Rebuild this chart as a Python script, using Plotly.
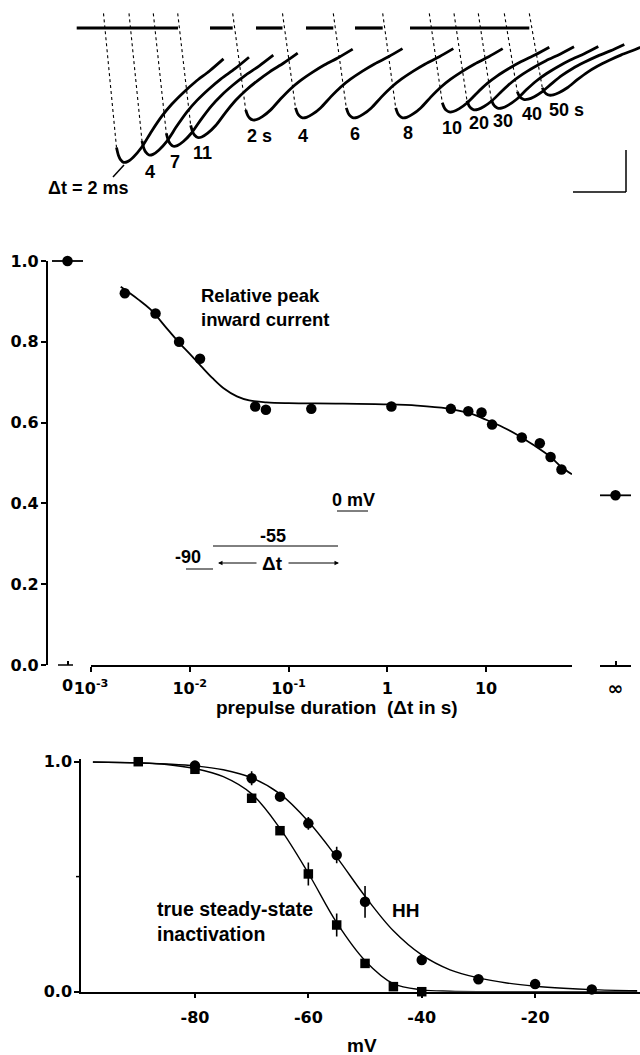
import plotly.graph_objects as go

W, H = 640, 1055
def px(x): return x / W
def py(y): return 1 - y / H

# ---------------- DATA ----------------
# Top: current records after prepulses of duration Δt
trace_labels = ["Δt = 2 ms", "4", "7", "11", "2 s", "4", "6", "8", "10", "20", "30", "40", "50 s"]
trace_peaks = [0.92, 0.87, 0.81, 0.75, 0.63, 0.615, 0.615, 0.615, 0.575, 0.56, 0.55, 0.49, 0.46]
# shape of one record (time after pulse onset, fraction of peak)
rec_t = [13, 15, 17, 20, 24, 30, 38, 48, 58, 68, 80, 92, 106, 120]
rec_shape = [0.89, 0.95, 0.98, 1.0, 0.995, 0.96, 0.89, 0.77, 0.66, 0.57, 0.48, 0.40, 0.32, 0.23]
artifact = 0.10

# Middle: relative peak inward current vs prepulse duration
dt_s = [0.0022, 0.0045, 0.0078, 0.0127, 0.046, 0.059, 0.17, 1.1, 4.4, 6.6, 9.0, 11.5, 23, 35, 45, 58]
rel_peak = [0.92, 0.87, 0.80, 0.758, 0.64, 0.632, 0.634, 0.64, 0.634, 0.628, 0.625, 0.595, 0.563, 0.549, 0.515, 0.484]
rel_peak_zero = 1.0
rel_peak_inf = 0.42
fit_t = [0.002, 0.003, 0.004, 0.006, 0.008, 0.01, 0.013, 0.017, 0.022, 0.03, 0.04, 0.06, 0.1, 0.3,
         1, 2, 4, 7, 10, 15, 20, 30, 45, 58, 74]
fit_rel = [0.936, 0.905, 0.88, 0.83, 0.795, 0.77, 0.74, 0.71, 0.685, 0.665, 0.655, 0.65, 0.648, 0.647,
           0.645, 0.642, 0.635, 0.622, 0.607, 0.588, 0.572, 0.545, 0.515, 0.49, 0.472]
mid_tickvals = [0.001, 0.01, 0.1, 1, 10]
mid_ticktext = ["10<sup>-3</sup>", "10<sup>-2</sup>", "10<sup>-1</sup>", "1", "10"]
mid_yticks = [0.0, 0.2, 0.4, 0.6, 0.8, 1.0]

# Bottom: inactivation curves
v_hh = [-80, -70, -65, -60, -55, -50, -40, -30, -20, -10]
hh = [0.983, 0.928, 0.848, 0.732, 0.594, 0.391, 0.138, 0.054, 0.033, 0.01]
hh_err = [0, 0.03, 0, 0.028, 0.036, 0.069, 0, 0, 0, 0]
v_ss = [-90, -80, -70, -65, -60, -55, -50, -45, -40]
ss = [1.0, 0.967, 0.841, 0.70, 0.512, 0.29, 0.123, 0.022, 0.0]
ss_err = [0, 0, 0, 0, 0.05, 0.05, 0, 0, 0]
fit_v = [-98, -90, -85, -80, -75, -70, -65, -60, -55, -50, -45, -40, -35, -30, -25, -20, -15, -10, -2]
hh_fit = [0.998, 0.995, 0.99, 0.982, 0.965, 0.93, 0.86, 0.74, 0.585, 0.415, 0.265, 0.16, 0.095,
          0.06, 0.038, 0.024, 0.015, 0.009, 0.004]
ss_fit = [0.999, 0.995, 0.988, 0.97, 0.935, 0.86, 0.71, 0.515, 0.30, 0.135, 0.035, 0.008, 0.002,
          0.0, 0.0, 0.0, 0.0, 0.0, 0.0]
bot_xticks = [-80, -60, -40, -20]

# ---------------- LAYOUT POSITIONS (montage / page pixels) ----------------
onsets = [103.5, 129, 153.3, 177.7, 232.7, 282.5, 333.3, 382.7, 429.3, 454, 478.3, 504.3, 529.3]
holding = [(76.7, 178), (210, 232.7), (256, 282.5), (306, 333.3), (355, 382.7), (410, 529.3)]
label_xy = [(88, 188), (150, 172), (175, 162), (202, 153), (259, 136), (303, 136), (355, 134),
            (408, 133), (452, 128), (479, 123), (503, 121), (532, 114), (566, 110)]
top_base_px, top_scale = 28, 146

BLACK = "black"
ann_font = dict(family="Liberation Sans, Arial", size=18, color=BLACK, weight="bold")
tick_font = dict(family="DejaVu Sans", size=16, color=BLACK, weight="bold")

fig = go.Figure()

# ---- top traces ----
for x0, p in zip(onsets, trace_peaks):
    fig.add_trace(go.Scatter(x=[x0, x0 + rec_t[0]], y=[artifact, -rec_shape[0] * p], mode="lines",
                             line=dict(color=BLACK, width=1.1, dash="dot"), xaxis="x", yaxis="y"))
    fig.add_trace(go.Scatter(x=[x0 + t for t in rec_t], y=[-f * p for f in rec_shape], mode="lines",
                             line=dict(color=BLACK, width=2.8, shape="spline", smoothing=0.8),
                             xaxis="x", yaxis="y"))
for a, b in holding:
    fig.add_trace(go.Scatter(x=[a, b], y=[0, 0], mode="lines", line=dict(color=BLACK, width=3.2),
                             xaxis="x", yaxis="y"))

# ---- middle panel ----
fig.add_trace(go.Scatter(x=fit_t, y=fit_rel, mode="lines", line=dict(color=BLACK, width=1.8, shape="spline"),
                         xaxis="x2", yaxis="y2"))
fig.add_trace(go.Scatter(x=dt_s, y=rel_peak, mode="markers", marker=dict(size=10.5, color=BLACK),
                         xaxis="x2", yaxis="y2", cliponaxis=False))
fig.add_trace(go.Scatter(x=[0], y=[rel_peak_zero], mode="markers", marker=dict(size=10.5, color=BLACK),
                         xaxis="x3", yaxis="y2", cliponaxis=False))
fig.add_trace(go.Scatter(x=[-1, 1], y=[rel_peak_inf, rel_peak_inf], mode="lines",
                         line=dict(color=BLACK, width=1.8), xaxis="x4", yaxis="y2"))
fig.add_trace(go.Scatter(x=[0], y=[rel_peak_inf], mode="markers", marker=dict(size=10.5, color=BLACK),
                         xaxis="x4", yaxis="y2", cliponaxis=False))

# ---- bottom panel ----
fig.add_trace(go.Scatter(x=fit_v, y=hh_fit, mode="lines", line=dict(color=BLACK, width=1.4, shape="spline"),
                         xaxis="x5", yaxis="y5"))
fig.add_trace(go.Scatter(x=fit_v, y=ss_fit, mode="lines", line=dict(color=BLACK, width=1.4, shape="spline"),
                         xaxis="x5", yaxis="y5"))
fig.add_trace(go.Scatter(x=v_hh, y=hh, mode="markers", marker=dict(size=10.5, color=BLACK, symbol="circle"),
                         error_y=dict(type="data", array=hh_err, color=BLACK, thickness=1.6, width=0),
                         xaxis="x5", yaxis="y5", cliponaxis=False))
fig.add_trace(go.Scatter(x=v_ss, y=ss, mode="markers", marker=dict(size=9.5, color=BLACK, symbol="square"),
                         error_y=dict(type="data", array=ss_err, color=BLACK, thickness=1.6, width=0),
                         xaxis="x5", yaxis="y5", cliponaxis=False))

shapes = []
def seg(x1, y1, x2, y2, w=1.5):
    shapes.append(dict(type="line", xref="paper", yref="paper", x0=px(x1), y0=py(y1), x1=px(x2), y1=py(y2),
                       line=dict(color=BLACK, width=w)))

# scale bar
seg(626, 150, 626, 192)
seg(573, 192, 626, 192)
# pointer for Δt = 2 ms
seg(113, 177, 124, 165, w=1.5)
# broken-axis pieces (middle)
seg(58, 665, 73, 665)
seg(52, 261, 83, 261, w=1.8)
# unlabeled 0.5 tick (bottom)
seg(76, 876.6, 81, 876.6)
# pulse protocol
seg(186, 569, 213, 569, w=1)
seg(213, 546, 338, 546, w=1)
seg(337, 511, 368, 511, w=1)

annotations = []
for (lx, ly), t in zip(label_xy, trace_labels):
    annotations.append(dict(x=px(lx), y=py(ly), xref="paper", yref="paper", text=t, showarrow=False,
                            xanchor="center", yanchor="middle", font=ann_font))

def txt(x, y, t, size=18, xanchor="center", align="center"):
    f = dict(ann_font); f["size"] = size
    annotations.append(dict(x=px(x), y=py(y), xref="paper", yref="paper", text=t, showarrow=False,
                            xanchor=xanchor, yanchor="middle", font=f, align=align))

txt(199, 307, "Relative peak<br>inward current", size=18.5, xanchor="left", align="left")
txt(353, 500, "0 mV")
txt(273, 536, "-55")
txt(188, 557, "-90")
txt(272, 563, "Δt", size=19)
txt(337, 707, "prepulse duration  (Δt in s)", size=19)
txt(155, 921, "true steady-state<br>inactivation", size=19.5, xanchor="left", align="left")
txt(405, 910, "HH", size=19)
txt(362, 1045, "mV", size=19)
# Δt arrows
for tip, tail in ((218, 258), (339, 287)):
    annotations.append(dict(x=px(tip), y=py(563), xref="paper", yref="paper", text="",
                            showarrow=True, ax=tail - tip, ay=0, arrowhead=2, arrowsize=0.9,
                            arrowwidth=1, arrowcolor=BLACK))

top_lo = -(215 - top_base_px) / top_scale
top_hi = top_base_px / top_scale

axis_common = dict(showgrid=False, zeroline=False, linecolor=BLACK, linewidth=1.5, tickcolor=BLACK,
                   tickwidth=1.5, tickfont=tick_font, automargin=False)
inf_font = dict(tick_font); inf_font["size"] = 19

fig.update_layout(
    width=W, height=H, margin=dict(l=0, r=0, t=0, b=0),
    paper_bgcolor="white", plot_bgcolor="white", showlegend=False,
    xaxis=dict(domain=[0, 1], range=[0, W], visible=False, anchor="y", automargin=False),
    yaxis=dict(domain=[py(215), 1], range=[top_lo, top_hi], visible=False, anchor="x", automargin=False),
    xaxis2=dict(type="log", domain=[px(91), px(572)], range=[-3, 1.87], anchor="y2", showline=True,
                ticks="outside", ticklen=5, tickvals=mid_tickvals, ticktext=mid_ticktext,
                ticklabelstandoff=3, **axis_common),
    yaxis2=dict(domain=[py(665), py(261)], range=[0, 1], anchor="free", position=px(46.7), showline=True,
                ticks="outside", ticklen=5, tickvals=mid_yticks,
                ticktext=[f"{v:.1f}" for v in mid_yticks], ticklabelstandoff=-1, **axis_common),
    xaxis3=dict(domain=[px(52), px(83)], range=[-1, 1], anchor="y2", showline=False, ticks="inside",
                ticklen=4, tickvals=[0], ticktext=["0"], ticklabelstandoff=9, **axis_common),
    xaxis4=dict(domain=[px(600), px(631)], range=[-1, 1], anchor="y2", showline=True, ticks="inside",
                ticklen=4, tickvals=[0], ticktext=["∞"], ticklabelstandoff=5,
                **{**axis_common, "tickfont": inf_font}),
    xaxis5=dict(domain=[px(81), 1], range=[-100.1, -1.5], anchor="y5", showline=True, ticks="outside",
                ticklen=5, tickvals=bot_xticks, ticktext=[str(v) for v in bot_xticks],
                ticklabelstandoff=5, **axis_common),
    yaxis5=dict(domain=[py(991.7), py(759.4)], range=[0, 1.01], anchor="x5", showline=True,
                ticks="outside", ticklen=5, tickvals=[0, 1.0], ticktext=["0.0", "1.0"],
                ticklabelstandoff=-1, **axis_common),
    shapes=shapes, annotations=annotations,
)

fig.write_html("out.html")
